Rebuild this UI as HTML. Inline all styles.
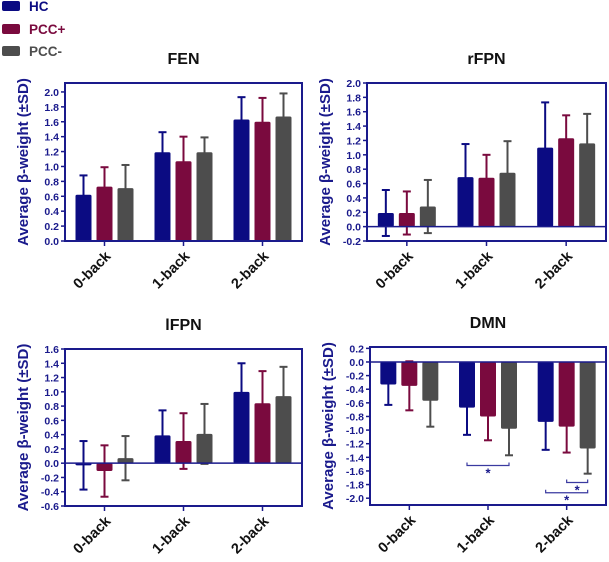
<!DOCTYPE html>
<html><head><meta charset="utf-8">
<style>
body{margin:0;background:#fff;}
svg text{font-family:"Liberation Sans",Arial,sans-serif;font-weight:bold;}
</style></head>
<body>
<svg id="c" width="609" height="557" xmlns="http://www.w3.org/2000/svg">
<g>
<rect x="2" y="1" width="18" height="10" rx="2" fill="#0b0b82"/>
<text x="29" y="11" font-size="13.5" fill="#0b0b82">HC</text>
<rect x="2" y="24" width="18" height="10" rx="2" fill="#7a0a3e"/>
<text x="29" y="34" font-size="13.5" fill="#7a0a3e">PCC+</text>
<rect x="2" y="46" width="18" height="10" rx="2" fill="#4d4d4d"/>
<text x="29" y="56" font-size="13.5" fill="#4d4d4d">PCC-</text>
</g>
</svg>
<script>
const categories=["0-back","1-back","2-back"];
const seriesNames=["HC","PCC+","PCC-"];
const fenMeans=[[0.62,1.19,1.63],[0.73,1.07,1.60],[0.71,1.19,1.67]];
const fenSD=[[0.26,0.27,0.30],[0.26,0.33,0.32],[0.31,0.20,0.31]];
const rfpnMeans=[[0.19,0.69,1.10],[0.19,0.68,1.23],[0.28,0.75,1.16]];
const rfpnSD=[[0.32,0.46,0.63],[0.30,0.32,0.32],[0.37,0.44,0.41]];
const lfpnMeans=[[-0.03,0.39,1.00],[-0.11,0.31,0.84],[0.07,0.41,0.94]];
const lfpnSD=[[0.34,0.35,0.40],[0.36,0.39,0.45],[0.31,0.42,0.41]];
const dmnMeans=[[-0.33,-0.67,-0.88],[-0.35,-0.80,-0.95],[-0.57,-0.98,-1.27]];
const dmnSD=[[0.30,0.40,0.41],[0.36,0.35,0.38],[0.38,0.39,0.37]];
const fenTicks=[0,0.2,0.4,0.6,0.8,1.0,1.2,1.4,1.6,1.8,2.0];
const rfpnTicks=[-0.2,0,0.2,0.4,0.6,0.8,1.0,1.2,1.4,1.6,1.8,2.0];
const lfpnTicks=[-0.6,-0.4,-0.2,0,0.2,0.4,0.6,0.8,1.0,1.2,1.4,1.6];
const dmnTicks=[-2.0,-1.8,-1.6,-1.4,-1.2,-1.0,-0.8,-0.6,-0.4,-0.2,0,0.2];
// significance: [category index, series a, series b, y value]
const dmnSig=[[1,0,2,-1.52],[2,1,2,-1.77],[2,0,2,-1.92]];

const NS="http://www.w3.org/2000/svg";
const svg=document.getElementById("c");
const colors=["#0b0b82","#7a0a3e","#4d4d4d"];
const AX="#1a1a8c";
function mk(tag,attrs,parent){const e=document.createElementNS(NS,tag);for(const k in attrs)e.setAttribute(k,attrs[k]);(parent||svg).appendChild(e);return e;}
function fmt(v){return (Math.abs(v)<1e-9?0:v).toFixed(1);}

function panel(name,title,box,ymin,ymax,ticks,means,sd,sig){
  const g=mk("g",{});
  
  
  const {l,r,t,b}=box;
  const y=v=>b-(v-ymin)/(ymax-ymin)*(b-t);
  const gw=(r-l)/3;
  const xc=i=>l+gw*(i+0.5);
  const tt=mk("text",{x:(l+r)/2,y:t-19,"text-anchor":"middle","font-size":"16",fill:"#111"},g);
  tt.textContent=title;
  
  
  const yt=mk("text",{transform:`translate(${l-37},${(t+b)/2}) rotate(-90)`,"text-anchor":"middle","font-size":"15",fill:AX},g);
  yt.textContent="Average β-weight (±SD)";
  
  
  ticks.forEach(v=>{
    mk("line",{x1:l-4,x2:l,y1:y(v),y2:y(v),stroke:AX,"stroke-width":1.5},g);
    const tx=mk("text",{x:l-6,y:y(v)+4,"text-anchor":"end","font-size":"10.5",fill:AX},g);
    tx.textContent=fmt(v);
    
    
  });
  const bw=16,sp=21;
  for(let s=0;s<3;s++)for(let i=0;i<3;i++){
    const m=means[s][i],d=sd[s][i],cx=xc(i)+(s-1)*sp;
    const lo=m-d,hi=m+d;
    const eg=mk("g",{},g);
    
    
    mk("line",{x1:cx,x2:cx,y1:y(lo),y2:y(hi),stroke:colors[s],"stroke-width":2},eg);
    [lo,hi].forEach(v=>mk("line",{x1:cx-4,x2:cx+4,y1:y(v),y2:y(v),stroke:colors[s],"stroke-width":2},eg));
    const y0=y(0),ym=y(m);
    const bar=mk("rect",{x:cx-bw/2,y:Math.min(y0,ym),width:bw,height:Math.max(1,Math.abs(ym-y0)),rx:1.5,fill:colors[s]},g);
    
    
  }
  mk("line",{x1:l,x2:r,y1:y(0),y2:y(0),stroke:AX,"stroke-width":1.5},g);
  const fr=mk("rect",{x:l,y:t,width:r-l,height:b-t,fill:"none",stroke:AX,"stroke-width":2},g);
  
  
  categories.forEach((c,i)=>{
    mk("line",{x1:xc(i),x2:xc(i),y1:b,y2:b+5,stroke:AX,"stroke-width":1.5},g);
    const tx=mk("text",{transform:`translate(${xc(i)+7},${b+16}) rotate(-45)`,"text-anchor":"end","font-size":"14.5",fill:"#111"},g);
    tx.textContent=c;
    
    
  });
  (sig||[]).forEach(([i,a,bb,v])=>{
    const x1=xc(i)+(a-1)*sp,x2=xc(i)+(bb-1)*sp,yy=y(v);
    const sg=mk("g",{},g);
    
    
    mk("path",{d:`M${x1},${yy-3}V${yy}H${x2}V${yy-3}`,fill:"none",stroke:"#3a3aa0","stroke-width":1.2},sg);
    const st=mk("text",{x:(x1+x2)/2,y:yy+12,"text-anchor":"middle","font-size":"13",fill:"#1a1a8c"},sg);
    st.textContent="*";
  });
}
panel("fen","FEN",{l:65,r:302,t:83,b:241},0,2.12,fenTicks,fenMeans,fenSD);
panel("rfpn","rFPN",{l:367,r:606,t:83,b:241},-0.2,2.0,rfpnTicks,rfpnMeans,rfpnSD);
panel("lfpn","lFPN",{l:65,r:302,t:349,b:506},-0.6,1.6,lfpnTicks,lfpnMeans,lfpnSD);
panel("dmn","DMN",{l:370,r:606,t:347,b:505},-2.1,0.22,dmnTicks,dmnMeans,dmnSD,dmnSig);
</script>
</body></html>
